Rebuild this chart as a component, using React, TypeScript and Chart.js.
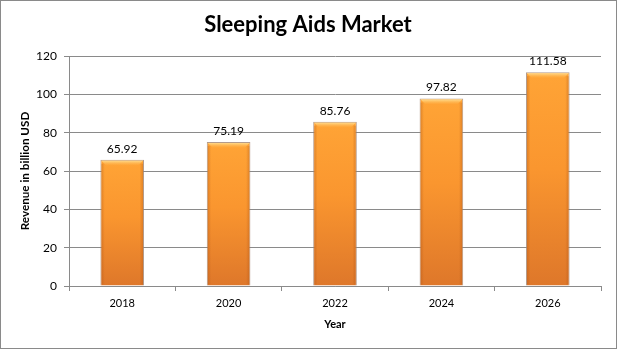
import React, { useEffect, useRef } from "react";
import { Chart, registerables } from "chart.js";

Chart.register(...registerables);

const categories = ["2018", "2020", "2022", "2024", "2026"];
const revenue = [65.92, 75.19, 85.76, 97.82, 111.58];
const revenueLabels = ["65.92", "75.19", "85.76", "97.82", "111.58"];
const yTicks = [0, 20, 40, 60, 80, 100, 120];

const FONT = "Lato, 'Open Sans', sans-serif";

const frame = {
  id: "frame",
  beforeDraw(chart: any) {
    const ctx = chart.ctx;
    ctx.save();
    ctx.fillStyle = "#ffffff";
    ctx.fillRect(0, 0, chart.width, chart.height);
    ctx.strokeStyle = "#8a8a8a";
    ctx.lineWidth = 1;
    ctx.strokeRect(0.5, 0.5, 616, 348);
    ctx.restore();
  },
};

const bevelAndLabels = {
  id: "bevelAndLabels",
  afterDatasetsDraw(chart: any) {
    const ctx = chart.ctx;
    const meta = chart.getDatasetMeta(0);
    ctx.save();
    meta.data.forEach((bar: any) => {
      const left = bar.x - bar.width / 2 + 1;
      const right = bar.x + bar.width / 2 - 1;
      const top = bar.y + 1;
      const bottom = bar.base - 1;
      const tg = ctx.createLinearGradient(0, top, 0, top + 5);
      tg.addColorStop(0, "rgba(255,225,150,0.9)");
      tg.addColorStop(1, "rgba(255,190,90,0)");
      ctx.fillStyle = tg;
      ctx.beginPath();
      ctx.moveTo(left, top);
      ctx.lineTo(right, top);
      ctx.lineTo(right - 5, top + 5);
      ctx.lineTo(left + 5, top + 5);
      ctx.closePath();
      ctx.fill();
      const sg = ctx.createLinearGradient(left, 0, right, 0);
      sg.addColorStop(0, "rgba(170,80,20,0.35)");
      sg.addColorStop(0.08, "rgba(170,80,20,0)");
      sg.addColorStop(0.92, "rgba(170,80,20,0)");
      sg.addColorStop(1, "rgba(170,80,20,0.35)");
      ctx.fillStyle = sg;
      ctx.fillRect(left, top + 3, right - left, bottom - top - 3);
    });
    ctx.fillStyle = "#000000";
    ctx.font = `12px ${FONT}`;
    ctx.textAlign = "center";
    ctx.textBaseline = "bottom";
    meta.data.forEach((bar: any, i: number) => {
      ctx.fillText(revenueLabels[i], bar.x, bar.y - 5);
    });
    ctx.restore();
  },
};

export default function App() {
  const ref = useRef<HTMLCanvasElement>(null);
  useEffect(() => {
    document.body.style.margin = "0";
    const canvas = ref.current!;
    const chart = new Chart(canvas, {
      type: "bar",
      data: {
        labels: categories,
        datasets: [
          {
            data: revenue,
            backgroundColor: (c: any) => {
              const ch = c.chart;
              const ys = ch.scales?.y;
              if (!ch.chartArea || !ys || !c.parsed) return "#F39030";
              const top = ys.getPixelForValue(c.parsed.y);
              const bot = ys.getPixelForValue(0);
              if (!isFinite(top) || !isFinite(bot) || top === bot) return "#F39030";
              const g = ch.ctx.createLinearGradient(0, top, 0, bot);
              g.addColorStop(0, "#FFA436");
              g.addColorStop(0.45, "#FA962F");
              g.addColorStop(1, "#DE772A");
              return g;
            },
            borderColor: "rgba(160,130,110,0.8)",
            borderWidth: 1,
            barPercentage: 0.41,
            categoryPercentage: 1,
          },
        ],
      },
      options: {
        animation: false,
        responsive: false,
        devicePixelRatio: 1,
        layout: { padding: { left: 0, right: 12, top: 0, bottom: 22 } },
        plugins: {
          legend: { display: false },
          tooltip: { enabled: false },
          title: {
            display: true,
            text: "Sleeping Aids Market",
            color: "#000000",
            font: { family: FONT, size: 22, weight: "bold" },
            padding: { top: 12, bottom: 17.6 },
          },
        },
        scales: {
          x: {
            offset: true,
            grid: {
              offset: true,
              drawOnChartArea: false,
              drawTicks: true,
              tickLength: 5,
              color: "#8a8a8a",
            },
            border: { color: "#8a8a8a" },
            ticks: { color: "#000", font: { family: FONT, size: 11 }, padding: 6 },
            title: {
              display: true,
              text: "Year",
              color: "#000",
              font: { family: FONT, size: 11, weight: "bold" },
              padding: { top: 4, bottom: 0 },
            },
            afterFit(scale: any) {
              scale.height = 331 - 286;
            },
          },
          y: {
            min: 0,
            max: 120,
            afterBuildTicks(scale: any) {
              scale.ticks = yTicks.map((v) => ({ value: v }));
            },
            grid: { color: "#8a8a8a", tickLength: 5 },
            border: { color: "#8a8a8a" },
            ticks: { color: "#000", font: { family: FONT, size: 12 }, padding: 7 },
            title: {
              display: true,
              text: "Revenue in billion USD",
              color: "#000",
              font: { family: FONT, size: 11.7, weight: "bold" },
              padding: { top: 18, bottom: 6 },
            },
            afterFit(scale: any) {
              scale.width = 69;
            },
          },
          gap: {
            type: "linear",
            position: "right",
            display: true,
            grid: { display: false, drawTicks: false },
            border: { display: false },
            ticks: { display: false },
            afterFit(scale: any) {
              scale.width = 15;
            },
          },
        },
      },
      plugins: [frame, bevelAndLabels],
    } as any);
    return () => chart.destroy();
  }, []);
  return (
    <div style={{ width: 628, height: 353 }}>
      <canvas ref={ref} width={628} height={353} style={{ display: "block" }} />
    </div>
  );
}
